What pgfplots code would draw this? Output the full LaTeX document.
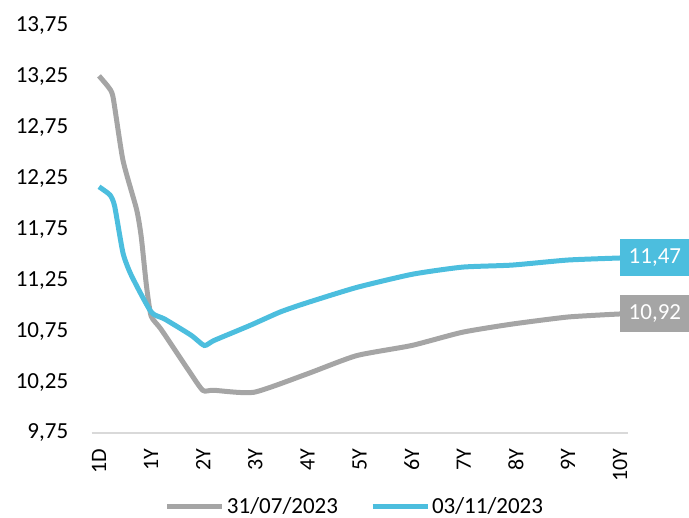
\documentclass[border=0pt]{standalone}
\usepackage{pgfplots}
\pgfplotsset{compat=1.18}
\usepackage{fontspec}
\setmainfont{Carlito}
\definecolor{cgrey}{RGB}{165,165,165}
\definecolor{cblue}{RGB}{76,190,222}
\definecolor{caxis}{RGB}{217,217,217}
\begin{document}
\begin{tikzpicture}
\begin{axis}[
  at={(0,0)}, anchor=south west,
  scale only axis, width=536.3pt, height=407pt,
  xmin=-0.14, xmax=10.15,
  ymin=9.75, ymax=13.75,
  axis lines*=left,
  y axis line style={draw=none},
  x axis line style={draw=caxis, line width=1.2pt},
  major tick length=0pt,
  xtick={0,1,...,10},
  xticklabels={1D,1Y,2Y,3Y,4Y,5Y,6Y,7Y,8Y,9Y,10Y},
  xticklabel style={rotate=90, anchor=east, font=\fontsize{22}{26}\selectfont, xshift=-12pt},
  ytick={9.75,10.25,10.75,11.25,11.75,12.25,12.75,13.25,13.75},
  yticklabel style={font=\fontsize{23}{27}\selectfont, xshift=-20pt},
  /pgf/number format/.cd, use comma, fixed, fixed zerofill, precision=2, assume math mode=true,
  /pgfplots/.cd,
  clip=false,
  legend columns=2,
  legend style={at={(0.491,-0.18)}, anchor=center, draw=none, fill=none,
    font=\fontsize{23}{26}\selectfont, inner sep=0pt,
    /tikz/every even column/.append style={column sep=30pt}},
  legend image code/.code={\draw[line width=5pt] (0pt,0pt) -- (55pt,0pt);},
]
\addplot[cgrey, line width=5pt, smooth, tension=0.35] coordinates {
(0,13.26) (0.18,13.15) (0.27,13.05) (0.46,12.43) (0.72,11.95) (0.81,11.68) (0.91,11.20) (1.00,10.90) (1.19,10.77) (1.70,10.38) (1.99,10.17) (2.20,10.17) (2.97,10.15) (3.99,10.33) (4.94,10.51) (6.0,10.61) (6.97,10.74) (7.92,10.82) (9.0,10.89) (10,10.92)
};
\addlegendentry{31/07/2023}
\addplot[cblue, line width=5pt, smooth, tension=0.35] coordinates {
(0,12.17) (0.21,12.09) (0.30,11.98) (0.46,11.52) (0.62,11.30) (1.00,10.94) (1.26,10.87) (1.77,10.71) (2.02,10.61) (2.21,10.66) (2.91,10.81) (3.48,10.94) (3.99,11.03) (4.94,11.18) (6.01,11.31) (6.97,11.38) (7.92,11.40) (9.0,11.45) (10,11.47)
};
\addlegendentry{03/11/2023}
\node[fill=cblue, text=white, anchor=west, minimum height=37pt, minimum width=69pt, inner sep=0pt, font=\fontsize{23}{27}\selectfont] at (axis cs:10,11.47) {11,47};
\node[fill=cgrey, text=white, anchor=west, minimum height=37pt, minimum width=69pt, inner sep=0pt, font=\fontsize{23}{27}\selectfont] at (axis cs:10,10.92) {10,92};
\end{axis}
\pgfresetboundingbox
\path[use as bounding box] (-91.7pt,-85pt) rectangle (597.3pt,433pt);
\end{tikzpicture}
\end{document}
